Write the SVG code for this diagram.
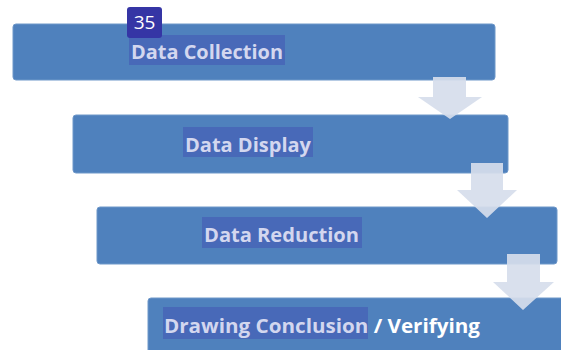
<svg xmlns="http://www.w3.org/2000/svg" width="561" height="350" viewBox="0 0 561 350">
<style>
.box{fill:#4f81bd;stroke:#6f98c9;stroke-width:1}
.hl{fill:#4869b8}
.lbl{font-family:"Open Sans","Noto Sans","Liberation Sans",sans-serif;font-weight:bold;font-size:20px;fill:#d3d7ef}
.wht{fill:#ffffff}
.arr{fill:#d6ddec;fill-opacity:0.92}
.badge{fill:#3535a5}
.num{font-family:"Open Sans","Noto Sans","Liberation Sans",sans-serif;font-size:19px;fill:#ffffff}
</style>
<rect width="561" height="350" fill="#ffffff"/>
<g id="node-collection">
<rect class="box" x="13" y="24" width="482" height="56" rx="3"/>
<rect class="hl" x="129" y="35" width="156" height="30"/>
<text class="lbl" x="131" y="59" textLength="152" lengthAdjust="spacingAndGlyphs">Data Collection</text>
</g>
<g id="node-display">
<rect class="box" x="73" y="115" width="435" height="58" rx="3"/>
<rect class="hl" x="183" y="127" width="130" height="30"/>
<text class="lbl" x="185" y="152" textLength="126" lengthAdjust="spacingAndGlyphs">Data Display</text>
</g>
<g id="node-reduction">
<rect class="box" x="97" y="207" width="460" height="57" rx="3"/>
<rect class="hl" x="202" y="217" width="160" height="31"/>
<text class="lbl" x="204" y="242" textLength="155" lengthAdjust="spacingAndGlyphs">Data Reduction</text>
</g>
<g id="node-conclusion">
<rect class="box" x="148" y="298" width="420" height="60" rx="3"/>
<rect class="hl" x="163" y="307" width="205" height="32"/>
<text class="lbl" x="164" y="333" textLength="316" lengthAdjust="spacingAndGlyphs">Drawing Conclusion<tspan class="wht"> / Verifying</tspan></text>
</g>
<g id="connectors">
<polygon class="arr" points="433,77 466,77 466,97 482,97 450,119 418,97 433,97"/>
<polygon class="arr" points="471,163 503,163 503,190 517,190 487,218 457,190 471,190"/>
<polygon class="arr" points="507,254 540,254 540,282 554,282 523,310 493,282 507,282"/>
</g>
<g id="badge">
<rect class="badge" x="127" y="7" width="35" height="31" rx="3"/>
<text class="num" x="144.5" y="29" text-anchor="middle">35</text>
</g>
</svg>
